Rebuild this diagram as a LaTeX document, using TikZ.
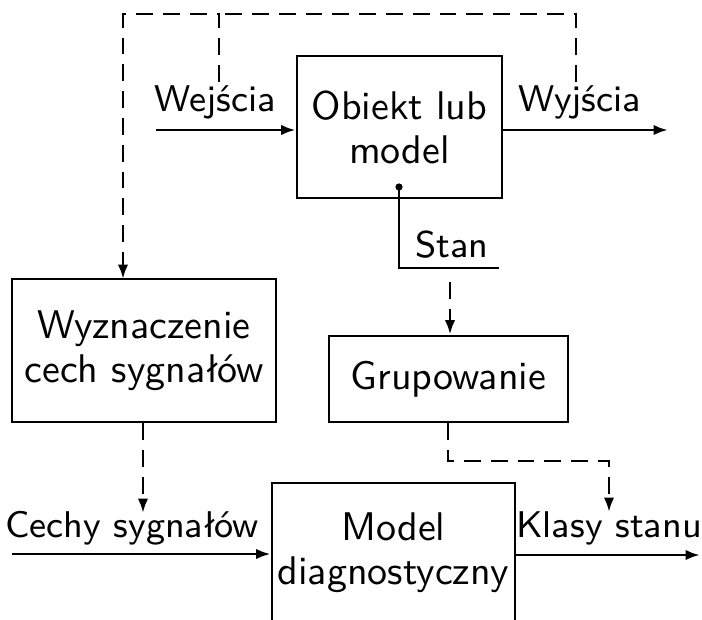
\documentclass[tikz,border=0pt]{standalone}
\usetikzlibrary{arrows.meta}
\begin{document}
\begin{tikzpicture}[x=0.25pt,y=-0.25pt,
  font=\sffamily\fontsize{10}{11}\selectfont,
  line width=0.7pt,
  box/.style={draw, rectangle, align=center, inner sep=0pt},
  arr/.style={-{Latex[length=3.6pt,width=2.6pt]}},
  dsh/.style={dash pattern=on 4.2pt off 2.5pt},
  lbl/.style={anchor=base, inner sep=0pt, font=\sffamily\fontsize{9.3}{11}\selectfont}]
\useasboundingbox (0,0) rectangle (702,619);
\clip (0,0) rectangle (702,619);

% boxes
\node[box, minimum width=51.25pt, minimum height=35.5pt] (obj) at (399.5,127) {Obiekt lub\\model};
\node[box, minimum width=66pt, minimum height=35.75pt] (wyz) at (144,350.5) {Wyznaczenie\\cech sygnałów};
\node[box, minimum width=59.75pt, minimum height=21.5pt] (grp) at (448.5,379) {Grupowanie};
\node[box, minimum width=60.75pt, minimum height=35pt] (mod) at (393.5,553) {Model\\diagnostyczny};

% free ends
\coordinate (win) at (156,130);
\coordinate (wout) at (668,130);
\coordinate (tapA) at (219,82);
\coordinate (tapB) at (576,82);
\coordinate (topA) at (219,14);
\coordinate (topB) at (576,14);
\coordinate (topL) at (123,14);
\coordinate (wyzin) at (123,279);
\coordinate (dot) at (399,187);
\coordinate (stanC) at (399,268);
\coordinate (stanE) at (499,268);
\coordinate (stanD) at (450,282);
\coordinate (cin) at (12,554);
\coordinate (kout) at (700,555);
\coordinate (gA) at (448,461);
\coordinate (gB) at (609,461);
\coordinate (gC) at (609,512);
\coordinate (wyzD) at (143,513);

% labels
\node[lbl] (lwej) at (215,112) {Wejścia};
\node[lbl] (lwyj) at (580,112) {Wyjścia};
\node[lbl] (lstan) at (452,257) {Stan};
\node[lbl] (lcech) at (132,537) {Cechy sygnałów};
\node[lbl] (lklas) at (609,537) {Klasy stanu};

% solid connectors
\draw[arr] (win) -- (obj.west |- win);
\draw[arr] (obj.east |- wout) -- (wout);
\draw[arr] (cin) -- (mod.west |- cin);
\draw[arr] (mod.east |- kout) -- (kout);
\fill (dot) circle (0.9pt);
\draw (dot) -- (stanC) -- (stanE);

% dashed connectors
\draw[dsh] (tapB) -- (topB) -- (topA);
\draw[dsh, arr] (tapA) -- (topA) -- (topL) -- (wyzin);
\draw[dsh, arr] (stanD) -- (grp.north -| stanD);
\draw[dsh, arr] (wyz.south -| wyzD) -- (wyzD);
\draw[dsh, arr] (grp.south -| gA) -- (gA) -- (gB) -- (gC);
\end{tikzpicture}
\end{document}
